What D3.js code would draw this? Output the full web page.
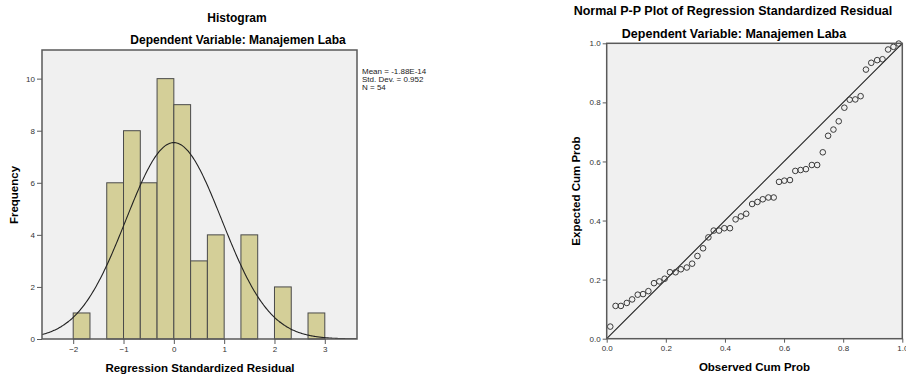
<!DOCTYPE html>
<html>
<head>
<meta charset="utf-8">
<script src="https://cdn.jsdelivr.net/npm/d3@7"></script>
<style>
  body { margin: 0; background: #fff; }
  text { font-family: "Liberation Sans", Arial, sans-serif; }
</style>
</head>
<body>
<div id="chart"></div>
<script>
// Histogram data: lower edge of each bin (width 1/3) and frequency.
const binStarts = [-2, -4/3, -1, -2/3, -1/3, 0, 1/3, 2/3, 4/3, 2, 8/3];
const binCounts = [1, 6, 8, 6, 10, 9, 3, 4, 4, 2, 1];
const binWidth = 1/3;
const histXTicks = [-2, -1, 0, 1, 2, 3];
const histYTicks = [0, 2, 4, 6, 8, 10];

// Summary stats shown beside the histogram (used for the normal curve too).
const statMean = -1.88e-14;
const statSd = 0.952;
const statN = 54;
const statLabels = ["Mean = -1.88E-14", "Std. Dev. = 0.952", "N = 54"];

// P-P plot points.
const ppObserved = [0.012, 0.030, 0.048, 0.068, 0.086, 0.105, 0.123, 0.141, 0.160, 0.178,
  0.196, 0.214, 0.233, 0.251, 0.271, 0.289, 0.307, 0.326, 0.344, 0.362,
  0.380, 0.398, 0.417, 0.436, 0.454, 0.472, 0.492, 0.510, 0.528, 0.547,
  0.565, 0.583, 0.601, 0.620, 0.638, 0.656, 0.674, 0.694, 0.712, 0.731,
  0.749, 0.767, 0.785, 0.804, 0.822, 0.841, 0.859, 0.877, 0.895, 0.915,
  0.933, 0.952, 0.970, 0.988];
const ppExpected = [0.041, 0.111, 0.111, 0.121, 0.133, 0.149, 0.151, 0.161, 0.188, 0.194,
  0.203, 0.225, 0.225, 0.235, 0.241, 0.254, 0.280, 0.306, 0.343, 0.366,
  0.366, 0.374, 0.374, 0.404, 0.414, 0.423, 0.456, 0.463, 0.472, 0.478,
  0.478, 0.531, 0.535, 0.537, 0.568, 0.571, 0.574, 0.588, 0.588, 0.631,
  0.687, 0.708, 0.736, 0.782, 0.809, 0.810, 0.821, 0.911, 0.934, 0.943,
  0.946, 0.979, 0.988, 0.999];
const ppTicks = [0, 0.2, 0.4, 0.6, 0.8, 1.0];

const width = 906, height = 377;
const svg = d3.select("#chart").append("svg")
  .attr("width", width)
  .attr("height", height);

const frameColor = "#5a5a5a";
const tickColor = "#333";

// Shared helper for the grey plot panel.
function panel(x0, x1, y0, y1) {
  svg.append("rect")
    .attr("x", x0).attr("y", y0)
    .attr("width", x1 - x0).attr("height", y1 - y0)
    .attr("fill", "#f0f0f0");
}
function frame(x0, x1, y0, y1) {
  svg.append("rect")
    .attr("x", x0).attr("y", y0)
    .attr("width", x1 - x0).attr("height", y1 - y0)
    .attr("fill", "none")
    .attr("stroke", frameColor)
    .attr("stroke-width", 1.5);
}
function styleAxis(g) {
  g.select(".domain").remove();
  g.selectAll(".tick line").attr("stroke", frameColor);
  g.selectAll(".tick text")
    .attr("fill", tickColor)
    .style("font-size", "8px")
    .style("font-family", "'Liberation Sans', Arial, sans-serif");
}
function title(x, y, txt, size) {
  svg.append("text")
    .attr("x", x).attr("y", y)
    .attr("text-anchor", "middle")
    .style("font-size", size + "px")
    .style("font-weight", "bold")
    .text(txt);
}
function yLabel(x, y, txt) {
  svg.append("text")
    .attr("transform", `translate(${x},${y}) rotate(-90)`)
    .attr("text-anchor", "middle")
    .style("font-size", "11.5px")
    .style("font-weight", "bold")
    .text(txt);
}

// ---------- Histogram ----------
const hLeft = 42, hRight = 357, hTop = 50, hBottom = 339;
const hx = d3.scaleLinear().domain([-2.62, 3.64]).range([hLeft, hRight]);
const hy = d3.scaleLinear().domain([0, 11.1]).range([hBottom, hTop]);

panel(hLeft, hRight, hTop, hBottom);

svg.append("g").selectAll("rect")
  .data(binStarts.map((s, i) => ({ start: s, count: binCounts[i] })))
  .enter().append("rect")
  .attr("x", d => hx(d.start))
  .attr("y", d => hy(d.count))
  .attr("width", d => hx(d.start + binWidth) - hx(d.start))
  .attr("height", d => hy(0) - hy(d.count))
  .attr("fill", "#d4cf98")
  .attr("stroke", "#4a4a4a")
  .attr("stroke-width", 1);

// Fitted normal curve scaled to counts (N * bin width * density).
svg.append("clipPath").attr("id", "hclip")
  .append("rect")
  .attr("x", hLeft).attr("y", hTop)
  .attr("width", hRight - hLeft).attr("height", hBottom - hTop);

const curveXs = d3.range(-2.62, 3.6401, 0.02);
const curveLine = d3.line()
  .x(d => hx(d))
  .y(d => {
    const z = (d - statMean) / statSd;
    return hy(statN * binWidth * Math.exp(-0.5 * z * z) / (statSd * Math.sqrt(2 * Math.PI)));
  })
  .curve(d3.curveBasis);
svg.append("path")
  .datum(curveXs)
  .attr("clip-path", "url(#hclip)")
  .attr("d", curveLine)
  .attr("fill", "none")
  .attr("stroke", "#222")
  .attr("stroke-width", 1.1);

frame(hLeft, hRight, hTop, hBottom);

svg.append("g")
  .attr("transform", `translate(0,${hBottom})`)
  .call(d3.axisBottom(hx).tickValues(histXTicks).tickSize(5).tickPadding(2).tickFormat(d3.format("d")))
  .call(styleAxis);
svg.append("g")
  .attr("transform", `translate(${hLeft},0)`)
  .call(d3.axisLeft(hy).tickValues(histYTicks).tickSize(5).tickPadding(2).tickFormat(d3.format("d")))
  .call(styleAxis);

// Stats text to the right of the panel.
svg.append("g").selectAll("text")
  .data(statLabels)
  .enter().append("text")
  .attr("x", 362)
  .attr("y", (d, i) => 74 + i * 8)
  .attr("fill", "#222")
  .style("font-size", "8px")
  .text(d => d);

title(237, 21.5, "Histogram", 12);
title(238, 44, "Dependent Variable: Manajemen Laba", 12);
yLabel(18, 195, "Frequency");
svg.append("text")
  .attr("x", 200).attr("y", 371.5)
  .attr("text-anchor", "middle")
  .style("font-size", "11.5px")
  .style("font-weight", "bold")
  .text("Regression Standardized Residual");

// ---------- Normal P-P plot ----------
const pLeft = 606.7, pRight = 902.3, pTop = 43.3, pBottom = 338.7;
const px = d3.scaleLinear().domain([0, 1]).range([pLeft, pRight]);
const py = d3.scaleLinear().domain([0, 1]).range([pBottom, pTop]);

panel(pLeft, pRight, pTop, pBottom);

svg.append("line")
  .attr("x1", px(0)).attr("y1", py(0))
  .attr("x2", px(1)).attr("y2", py(1))
  .attr("stroke", "#222")
  .attr("stroke-width", 1.1);

svg.append("g").selectAll("circle")
  .data(ppObserved.map((o, i) => ({ obs: o, exp: ppExpected[i] })))
  .enter().append("circle")
  .attr("cx", d => px(d.obs))
  .attr("cy", d => py(d.exp))
  .attr("r", 2.8)
  .attr("fill", "none")
  .attr("stroke", "#3a3a3a")
  .attr("stroke-width", 1);

frame(pLeft, pRight, pTop, pBottom);

svg.append("g")
  .attr("transform", `translate(0,${pBottom})`)
  .call(d3.axisBottom(px).tickValues(ppTicks).tickSize(4).tickPadding(3).tickFormat(d3.format(".1f")))
  .call(styleAxis);
svg.append("g")
  .attr("transform", `translate(${pLeft},0)`)
  .call(d3.axisLeft(py).tickValues(ppTicks).tickSize(4).tickPadding(2).tickFormat(d3.format(".1f")))
  .call(styleAxis);

title(733, 14.5, "Normal P-P Plot of Regression Standardized Residual", 12.5);
title(734, 37.5, "Dependent Variable: Manajemen Laba", 12.5);
yLabel(580, 191, "Expected Cum Prob");
svg.append("text")
  .attr("x", 754.5).attr("y", 371)
  .attr("text-anchor", "middle")
  .style("font-size", "11.5px")
  .style("font-weight", "bold")
  .text("Observed Cum Prob");
</script>
</body>
</html>
